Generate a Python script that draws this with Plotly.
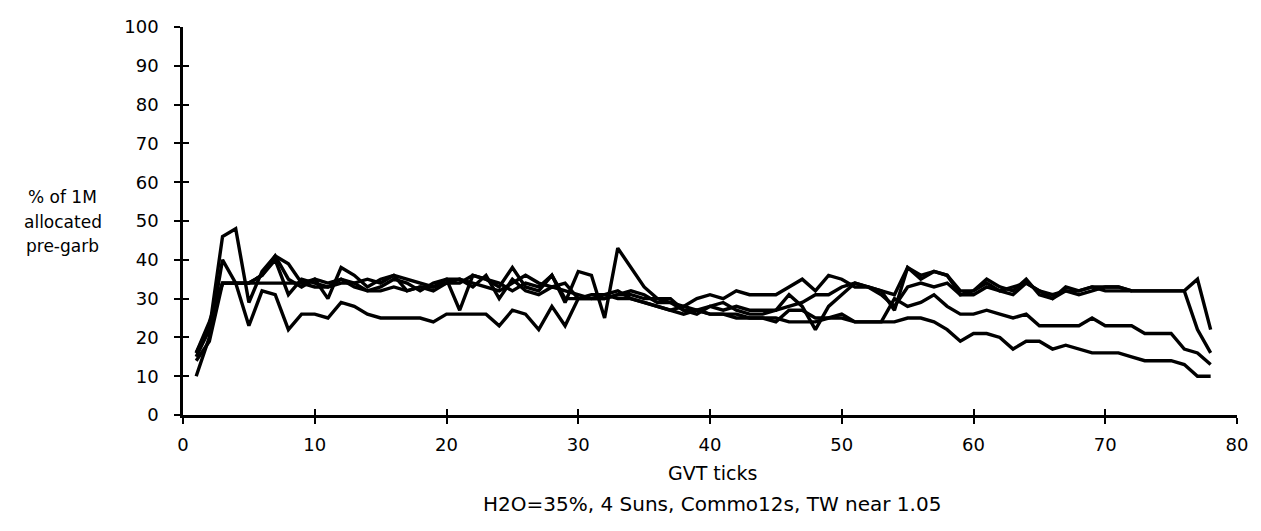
import plotly.graph_objects as go

x_all = list(range(1, 79))
x_e = list(range(1, 73))

series_a = [15,22,46,48,29,37,41,39,34,35, 30,38,36,33,35,36,32,33,32,34,
            34,36,35,33,38,33,32,36,30,30, 30,30,31,32,31,29,29,28,30,31,
            30,32,31,31,31,33,35,32,36,35, 33,33,32,31,38,35,37,36,31,32,
            35,33,32,35,31,30,33,32,33,33, 33,32,32,32,32,32,35,22]
series_b = [16,24,34,34,34,36,40,31,35,34, 33,35,33,32,33,35,34,32,34,35,
            27,36,35,34,32,34,33,36,29,37, 36,25,43,38,33,30,30,27,26,28,
            27,28,27,27,27,31,28,22,28,31, 34,33,32,27,38,36,37,36,32,32,
            34,32,33,34,32,31,32,31,32,33, 33,32,32,32,32,32,22,16]
series_c = [10,20,40,34,23,32,31,22,26,26, 25,29,28,26,25,25,25,25,24,26,
            26,26,26,23,27,26,22,28,23,30, 30,30,31,31,30,30,29,27,27,26,
            26,26,25,25,24,27,27,25,25,26, 24,24,24,30,28,29,31,28,26,26,
            27,26,25,26,23,23,23,23,25,23, 23,23,21,21,21,17,16,13]
series_d = [14,19,34,34,34,34,34,34,34,33, 33,34,34,32,32,33,32,33,33,35,
            35,34,33,32,34,36,34,33,34,30, 31,31,30,30,29,28,27,28,27,26,
            26,25,25,25,25,24,24,24,25,25, 24,24,24,24,25,25,24,22,19,21,
            21,20,17,19,19,17,18,17,16,16, 16,15,14,14,14,13,10,10]
series_e = [16,23,34,34,34,36,41,35,33,35, 34,35,34,35,34,36,35,34,33,34,
            35,33,36,30,35,32,31,33,32,31, 30,31,32,30,29,28,27,26,27,28,
            29,27,26,26,27,28,29,31,31,33, 34,33,31,28,33,34,33,34,31,31,
            33,32,31,34,32,30,32,32,33,32, 32,32]

x_ticks = [0, 10, 20, 30, 40, 50, 60, 70, 80]
y_ticks = [0, 10, 20, 30, 40, 50, 60, 70, 80, 90, 100]
y_title_lines = ["% of 1M", "allocated", "pre-garb"]
x_title = "GVT ticks"
subtitle = "H2O=35%, 4 Suns, Commo12s, TW near 1.05"

FONT = "DejaVu Sans, Verdana, sans-serif"

fig = go.Figure()
for xs, ys in [(x_all, series_a), (x_all, series_b), (x_all, series_c),
               (x_all, series_d), (x_e, series_e)]:
    fig.add_trace(go.Scatter(x=xs, y=ys, mode="lines",
                             line=dict(color="black", width=3.4),
                             showlegend=False, hoverinfo="skip"))
# dummy trace so the overlay axes (inner half of the crossing ticks) are drawn
fig.add_trace(go.Scatter(x=[None], y=[None], xaxis="x2", yaxis="y2",
                         showlegend=False, hoverinfo="skip"))

axis_common = dict(showgrid=False, zeroline=False, linecolor="black",
                   linewidth=2.5, ticks="outside", ticklen=6, tickwidth=2,
                   tickcolor="black", ticklabeloverflow="allow",
                   tickfont=dict(family=FONT, size=18, color="black"))
inner_common = dict(showticklabels=False, showgrid=False, zeroline=False,
                    showline=False, ticks="inside", ticklen=6, tickwidth=2,
                    tickcolor="black")

annotations = []
for i, line in enumerate(y_title_lines):
    annotations.append(dict(text=line, xref="paper", yref="paper",
                            x=-0.1139, y=0.561 - i * 0.0627,
                            xanchor="center", yanchor="middle", showarrow=False,
                            font=dict(family=FONT, size=17, color="black")))
annotations.append(dict(text=x_title, xref="paper", yref="paper",
                        x=0.502, y=-0.150, xanchor="center", yanchor="middle",
                        showarrow=False, font=dict(family=FONT, size=19, color="black")))
annotations.append(dict(text=subtitle, xref="paper", yref="paper",
                        x=0.502, y=-0.2306, xanchor="center", yanchor="middle",
                        showarrow=False, font=dict(family=FONT, size=20, color="black")))

fig.update_layout(
    width=1253, height=523,
    paper_bgcolor="white", plot_bgcolor="white",
    margin=dict(l=175, r=24, t=8, b=116),
    xaxis=dict(range=[0, 80], tickvals=x_ticks, showline=True,
               ticklabelstandoff=6, **axis_common),
    yaxis=dict(range=[0, 100], tickvals=y_ticks, showline=True,
               ticklabelstandoff=12, **axis_common),
    xaxis2=dict(range=[0, 80], tickvals=x_ticks, overlaying="x", side="bottom",
                **inner_common),
    yaxis2=dict(range=[0, 100], tickvals=y_ticks, overlaying="y", side="left",
                **inner_common),
    annotations=annotations,
)

fig.write_html("out.html")
